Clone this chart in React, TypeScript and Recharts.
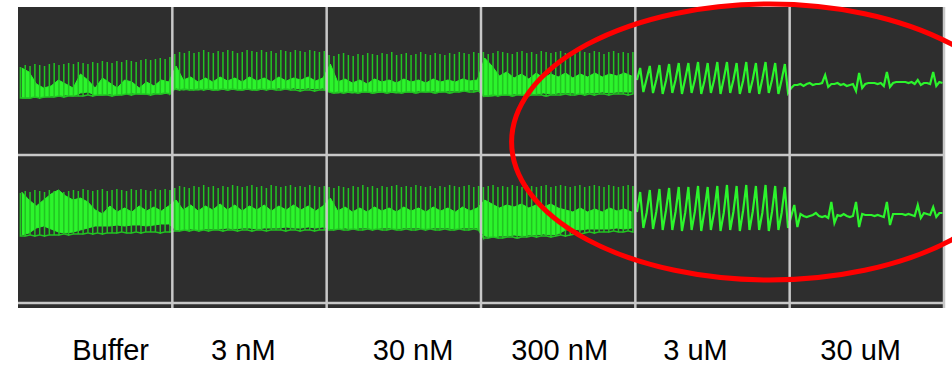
import React from "react";
import {
  ComposedChart,
  Line,
  Area,
  XAxis,
  YAxis,
  CartesianGrid,
  ReferenceLine,
  ReferenceDot,
} from "recharts";

// concentrations, one panel each
const panels = ["Buffer", "3 nM", "30 nM", "300 nM", "3 uM", "30 uM"];
const labelPos = [0.6, 1.46, 2.56, 3.51, 4.39, 5.46];
const panelEdges = [1, 2, 3, 4, 5, 6];
const rowEdges = [5, 153];

// ---- channel 1 (upper row): spike tops / bottoms of the dense recordings
const topBufferHi = [241, 243, 242, 244, 243, 242, 244, 245, 243, 244, 245, 244, 246, 245, 244, 246, 245, 247, 246, 245, 247, 246, 248, 247, 246, 248, 249, 248, 249, 250, 249, 251];
const topBufferLo = [210, 210, 210, 211, 210, 211, 211, 211, 212, 211, 212, 212, 212, 212, 213, 212, 213, 213, 213, 212, 213, 213, 214, 213, 214, 214, 214, 213, 214, 214, 215, 214];
const top3nMHi = [254, 256, 255, 257, 255, 256, 258, 256, 255, 257, 256, 258, 257, 255, 256, 258, 257, 256, 258, 256, 257, 255, 258, 257, 256, 258, 257, 256, 258, 257, 256, 257];
const top3nMLo = [219, 218, 219, 218, 218, 219, 218, 219, 218, 218, 219, 218, 219, 218, 218, 219, 218, 218, 219, 218, 219, 218, 218, 219, 218, 218, 217, 218, 218, 217, 218, 218];
const top30nMHi = [253, 252, 254, 255, 253, 252, 254, 253, 255, 254, 253, 255, 254, 256, 253, 254, 255, 253, 254, 256, 254, 253, 255, 254, 253, 255, 254, 256, 255, 254, 256, 255];
const top30nMLo = [216, 215, 216, 215, 216, 216, 215, 216, 216, 215, 216, 216, 215, 216, 216, 215, 216, 216, 215, 216, 216, 216, 215, 216, 216, 215, 216, 216, 217, 216, 216, 217];
const top300nMHi = [256, 254, 255, 257, 256, 255, 254, 256, 257, 255, 256, 254, 257, 256, 255, 256, 257, 255, 256, 254, 257, 256, 255, 257, 256, 254, 256, 257, 255, 256, 255, 256];
const top300nMLo = [212, 212, 213, 212, 213, 213, 212, 213, 213, 212, 213, 213, 213, 212, 213, 213, 213, 214, 213, 213, 214, 213, 214, 213, 214, 214, 213, 214, 214, 214, 213, 214];

// bright envelope (upper / lower edge)
const topBufferUp = [240, 236, 224, 220, 222, 228, 224, 220, 234, 228, 220, 230, 225, 220, 228, 226, 220, 226, 222, 228, 226];
const topBufferDn = [210, 210, 211, 211, 212, 212, 213, 212, 215, 216, 213, 213, 214, 213, 214, 215, 214, 214, 215, 214, 215];
const top3nMUp = [242, 228, 231, 226, 230, 226, 231, 227, 230, 226, 231, 227, 230, 226, 231, 227, 230, 228, 231, 227, 230];
const top3nMDn = [220, 218, 219, 218, 219, 218, 219, 218, 219, 218, 219, 218, 219, 219, 220, 219, 220, 219, 220, 219, 220];
const top30nMUp = [244, 226, 229, 225, 228, 224, 229, 226, 228, 225, 229, 226, 228, 225, 229, 226, 228, 226, 229, 227, 228];
const top30nMDn = [216, 215, 216, 215, 216, 216, 215, 216, 216, 215, 216, 216, 217, 216, 217, 216, 217, 217, 217, 218, 218];
const top300nMUp = [250, 242, 232, 236, 230, 234, 229, 235, 230, 234, 231, 235, 230, 234, 231, 235, 231, 234, 232, 235, 232];
const top300nMDn = [212, 212, 213, 213, 214, 213, 214, 214, 215, 214, 215, 215, 215, 214, 215, 215, 216, 215, 216, 216, 216];

// 3 uM beats and 30 uM trace
const top3uMRest = [228, 229, 228, 227, 228, 229, 228, 227, 228, 229, 228, 227, 228, 229, 228, 228];
const top3uMPeak = [240, 242, 243, 244, 245, 245, 246, 245, 246, 246, 245, 246, 245, 246, 245, 244];
const top3uMTrough = [216, 215, 214, 215, 214, 215, 214, 215, 214, 215, 214, 215, 214, 215, 214, 215];
const top30uM = [
  220, 223, 223, 224, 222, 224, 225, 223, 224, 224,
  225, 233, 221, 224, 224, 225, 223, 224, 222, 223,
  224, 217, 235, 220, 224, 225, 225, 225, 224, 225,
  222, 236, 221, 225, 226, 226, 226, 226, 225, 226,
  224, 228, 223, 225, 225, 224, 236, 222, 226, 225,
];

// ---- channel 2 (lower row)
const botBufferHi = [115, 117, 116, 118, 117, 116, 118, 117, 118, 116, 117, 118, 117, 119, 118, 117, 118, 119, 117, 118, 119, 118, 117, 119, 118, 119, 118, 117, 119, 118, 119, 118];
const botBufferLo = [72, 72, 73, 72, 73, 72, 73, 73, 73, 74, 73, 74, 74, 74, 75, 74, 75, 74, 75, 75, 75, 76, 75, 75, 76, 75, 76, 76, 76, 75, 76, 76];
const bot3nMHi = [120, 122, 121, 120, 122, 121, 123, 121, 122, 120, 122, 121, 123, 122, 121, 122, 123, 121, 122, 120, 123, 122, 121, 122, 123, 121, 122, 121, 123, 122, 121, 122];
const bot3nMLo = [77, 77, 78, 77, 78, 77, 78, 77, 78, 78, 77, 78, 78, 77, 78, 78, 77, 78, 78, 77, 78, 78, 78, 77, 78, 78, 77, 78, 78, 77, 78, 78];
const bot30nMHi = [121, 120, 122, 121, 120, 122, 121, 123, 121, 122, 120, 122, 121, 122, 123, 121, 122, 121, 123, 122, 121, 122, 120, 122, 121, 123, 122, 121, 122, 123, 121, 122];
const bot30nMLo = [78, 78, 79, 78, 78, 79, 78, 78, 79, 78, 79, 78, 78, 79, 78, 78, 79, 78, 78, 79, 78, 79, 78, 78, 79, 78, 78, 79, 78, 78, 79, 78];
const bot300nMHi = [121, 122, 123, 121, 122, 121, 123, 122, 121, 123, 122, 121, 122, 123, 121, 122, 123, 122, 121, 122, 123, 121, 122, 123, 122, 121, 123, 122, 121, 122, 123, 122];
const bot300nMLo = [70, 70, 71, 70, 70, 71, 71, 70, 71, 71, 72, 71, 72, 72, 71, 72, 73, 72, 73, 74, 74, 75, 76, 75, 76, 76, 76, 77, 76, 76, 77, 76];

const botBufferUp = [116, 108, 102, 108, 114, 118, 112, 108, 110, 106, 98, 94, 102, 96, 100, 96, 102, 97, 101, 97, 102];
const botBufferDn = [73, 75, 80, 82, 79, 76, 75, 76, 78, 80, 82, 82, 82, 83, 82, 83, 83, 82, 83, 84, 84];
const bot3nMUp = [108, 98, 103, 97, 102, 98, 104, 98, 103, 97, 102, 98, 103, 97, 102, 98, 103, 98, 102, 97, 102];
const bot3nMDn = [78, 78, 79, 78, 79, 79, 79, 80, 79, 80, 80, 79, 80, 80, 80, 81, 80, 80, 81, 80, 81];
const bot30nMUp = [110, 97, 101, 96, 100, 96, 101, 97, 100, 96, 101, 97, 100, 96, 101, 97, 100, 96, 101, 97, 100];
const bot30nMDn = [79, 79, 80, 79, 80, 80, 79, 80, 80, 79, 80, 80, 80, 79, 80, 80, 80, 79, 80, 80, 80];
const bot300nMUp = [108, 104, 100, 103, 101, 104, 100, 103, 101, 104, 100, 98, 96, 100, 96, 99, 96, 100, 97, 99, 96];
const bot300nMDn = [72, 71, 72, 72, 73, 72, 73, 73, 74, 73, 74, 78, 79, 78, 79, 79, 79, 79, 80, 79, 80];

const bot3uMRest = [96, 95, 96, 97, 96, 95, 96, 97, 96, 95, 96, 97, 96, 95, 96, 95];
const bot3uMPeak = [116, 118, 119, 120, 121, 121, 122, 121, 122, 123, 122, 123, 122, 123, 122, 121];
const bot3uMTrough = [80, 79, 78, 78, 77, 78, 77, 78, 77, 78, 77, 78, 78, 77, 78, 80];
const bot30uM = [
  92, 103, 81, 94, 92, 91, 92, 93, 95, 92,
  91, 92, 90, 106, 85, 93, 92, 94, 92, 91,
  92, 106, 81, 94, 93, 93, 93, 92, 93, 92,
  91, 106, 83, 94, 94, 94, 94, 93, 94, 93,
  92, 103, 90, 95, 94, 93, 101, 91, 95, 95,
];

// samples are evenly spread over the panel they belong to
const toSeries = (panel: number, values: number[]) =>
  values.map((v, i) => ({ x: panel + (i + 0.5) / values.length, v }));
const toBand = (panel: number, up: number[], dn: number[]) =>
  up.map((u, i) => ({ x: panel + (i + 0.5) / up.length, band: [dn[i], u] }));
// each fast spike is drawn as an upstroke and its return at the same time point
const toSpikes = (panel: number, hi: number[], lo: number[]) =>
  hi.flatMap((h, i) => {
    const x = panel + (i + 0.5) / hi.length;
    return [{ x, v: lo[i] }, { x, v: h }, { x, v: lo[i] }];
  });
const beats = (rest: number[], peak: number[], trough: number[]) =>
  rest.flatMap((r, i) => [r, peak[i], trough[i]]);

const topDense = [
  ...toSpikes(0, topBufferHi, topBufferLo),
  ...toSpikes(1, top3nMHi, top3nMLo),
  ...toSpikes(2, top30nMHi, top30nMLo),
  ...toSpikes(3, top300nMHi, top300nMLo),
];
const topBand = [
  ...toBand(0, topBufferUp, topBufferDn),
  ...toBand(1, top3nMUp, top3nMDn),
  ...toBand(2, top30nMUp, top30nMDn),
  ...toBand(3, top300nMUp, top300nMDn),
];
const topWave = [
  ...toSeries(4, beats(top3uMRest, top3uMPeak, top3uMTrough)),
  ...toSeries(5, top30uM),
];

const botDense = [
  ...toSpikes(0, botBufferHi, botBufferLo),
  ...toSpikes(1, bot3nMHi, bot3nMLo),
  ...toSpikes(2, bot30nMHi, bot30nMLo),
  ...toSpikes(3, bot300nMHi, bot300nMLo),
];
const botBand = [
  ...toBand(0, botBufferUp, botBufferDn),
  ...toBand(1, bot3nMUp, bot3nMDn),
  ...toBand(2, bot30nMUp, bot30nMDn),
  ...toBand(3, bot300nMUp, bot300nMDn),
];
const botWave = [
  ...toSeries(4, beats(bot3uMRest, bot3uMPeak, bot3uMTrough)),
  ...toSeries(5, bot30uM),
];

const DIM_GREEN = "#22c422";
const GREEN = "#2cf42c";
const GRID = "#c8c8c8";

const Ellipse = (props: any) => (
  <ellipse
    cx={props.cx}
    cy={props.cy}
    rx={258}
    ry={138}
    fill="none"
    stroke="#ff0000"
    strokeWidth={5}
  />
);

export default function App() {
  return (
    <div style={{ position: "fixed", left: 0, top: 0, width: 952, height: 366, background: "#fff" }}>
      <ComposedChart width={952} height={366} margin={{ top: 7, right: 8, bottom: 0, left: 18 }}>
        <XAxis
          type="number"
          dataKey="x"
          domain={[0, 6]}
          ticks={labelPos}
          tickFormatter={(v: number) => panels[labelPos.indexOf(v)]}
          height={58}
          axisLine={false}
          tickLine={false}
          tickSize={0}
          tickMargin={31}
          interval={0}
          tick={{ fontSize: 29, fill: "#000", fontFamily: "Liberation Sans, Arial, sans-serif" }}
        />
        <YAxis type="number" domain={[0, 301]} hide />
        <CartesianGrid horizontal={false} vertical={false} fill="#2e2e2e" fillOpacity={1} />

        <Line data={topDense} dataKey="v" type="linear" stroke={DIM_GREEN} strokeWidth={1.5} dot={false} isAnimationActive={false} />
        <Line data={botDense} dataKey="v" type="linear" stroke={DIM_GREEN} strokeWidth={1.5} dot={false} isAnimationActive={false} />
        <Area data={topBand} dataKey="band" type="linear" stroke={GREEN} strokeWidth={1} fill={GREEN} fillOpacity={1} dot={false} isAnimationActive={false} />
        <Area data={botBand} dataKey="band" type="linear" stroke={GREEN} strokeWidth={1} fill={GREEN} fillOpacity={1} dot={false} isAnimationActive={false} />
        <Line data={topWave} dataKey="v" type="linear" stroke={GREEN} strokeWidth={2.2} dot={false} isAnimationActive={false} />
        <Line data={botWave} dataKey="v" type="linear" stroke={GREEN} strokeWidth={2.2} dot={false} isAnimationActive={false} />

        {rowEdges.map((e) => (
          <ReferenceLine key={`r${e}`} y={e} stroke={GRID} strokeWidth={2.5} />
        ))}
        {panelEdges.map((e) => (
          <ReferenceLine key={`p${e}`} x={e} stroke={GRID} strokeWidth={2.5} />
        ))}
        <ReferenceDot x={4.87} y={166} shape={<Ellipse />} />
      </ComposedChart>
    </div>
  );
}
